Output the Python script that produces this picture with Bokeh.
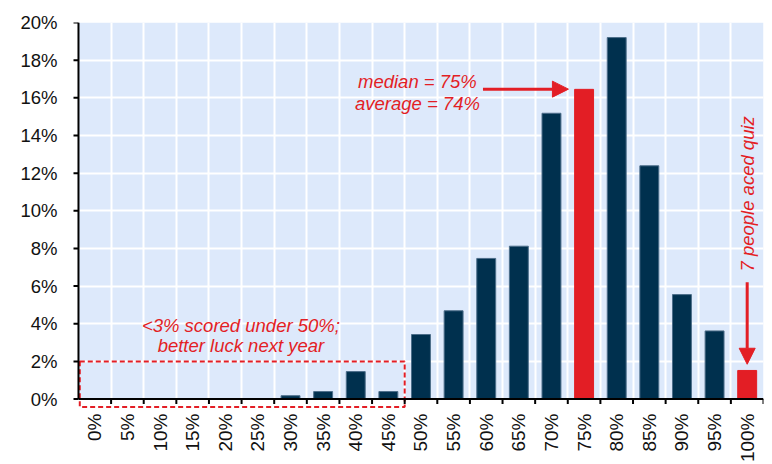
import math
from bokeh.plotting import figure
from bokeh.models import (FixedTicker, Label, Arrow, NormalHead, BoxAnnotation,
                          ColumnDataSource, Range1d)
from bokeh.embed import file_html
from bokeh.resources import INLINE

# ---- data ----
categories = ["0%", "5%", "10%", "15%", "20%", "25%", "30%", "35%", "40%", "45%",
              "50%", "55%", "60%", "65%", "70%", "75%", "80%", "85%", "90%", "95%", "100%"]
shares = [0.0, 0.0, 0.0, 0.0, 0.0, 0.0, 0.18, 0.4, 1.46, 0.4,
          3.43, 4.69, 7.47, 8.12, 15.18, 16.45, 19.2, 12.39, 5.55, 3.62, 1.52]
highlight = ["75%", "100%"]
y_ticks = [0, 2, 4, 6, 8, 10, 12, 14, 16, 18, 20]
y_tick_labels = ["0%", "2%", "4%", "6%", "8%", "10%", "12%", "14%", "16%", "18%", "20%"]

NAVY = "#00304e"
NAVY_EDGE = "#4d6e8a"
RED = "#e31e25"
BG = "#dde9fb"
FONT = "Liberation Sans"

n = len(categories)
xs = list(range(n))
fills = [RED if c in highlight else NAVY for c in categories]
edges = [RED if c in highlight else NAVY_EDGE for c in categories]
src = ColumnDataSource(dict(x=xs, top=shares, fill=fills, edge=edges, cat=categories))

x_lo, x_hi = -0.5, n - 0.5
y_lo, y_hi = y_ticks[0], y_ticks[-1]
PX_X = 32.73   # pixels per category
PX_Y = 18.83   # pixels per percentage point
TICK = 5       # tick length, px

p = figure(frame_width=691, frame_height=386, output_backend="svg", toolbar_location=None,
           x_range=Range1d(x_lo - 6 / PX_X, x_hi), y_range=Range1d(y_lo - 0.5, y_hi),
           min_border_left=72, min_border_top=22, min_border_right=2, min_border_bottom=0)
p.background_fill_color = "white"
p.border_fill_color = "white"
p.outline_line_color = None

# plot-area background (only over the data region)
p.add_layout(BoxAnnotation(left=x_lo, right=x_hi, bottom=y_lo, top=y_hi,
                           fill_color=BG, fill_alpha=1.0, line_color=None, level="image"))

# grids
boundaries = [i + 0.5 for i in range(n - 1)]
p.xgrid.ticker = FixedTicker(ticks=boundaries)
p.ygrid.ticker = FixedTicker(ticks=y_ticks[1:])
p.xgrid.cross_bounds = (y_lo, y_hi)
p.ygrid.cross_bounds = (x_lo, x_hi)
for g in (p.xgrid, p.ygrid):
    g.grid_line_color = "white"
    g.grid_line_width = 2
    g.grid_line_alpha = 1.0

p.vbar(x="x", top="top", width=0.58, source=src, fill_color="fill",
       line_color="edge", line_width=1)

# dashed box around sub-50% scores
p.quad(left=[-0.46], right=[9.5], bottom=[-0.42], top=[2.0], fill_color=None,
       line_color=RED, line_width=2, line_dash="5 3")

# axis lines and ticks drawn at the data origin
p.segment(x0=[x_lo, x_lo], y0=[y_lo, y_lo], x1=[x_hi, x_lo], y1=[y_lo, y_hi],
          line_color="black", line_width=2)
edges_x = [i - 0.5 for i in range(1, n + 1)]
p.segment(x0=edges_x, y0=[y_lo] * len(edges_x), x1=edges_x,
          y1=[y_lo - TICK / PX_Y] * len(edges_x), line_color="black", line_width=2)
p.segment(x0=[x_lo] * len(y_ticks), y0=y_ticks, x1=[x_lo - TICK / PX_X] * len(y_ticks),
          y1=y_ticks, line_color="black", line_width=2)

# x axis (labels only)
xa = p.xaxis[0]
xa.ticker = FixedTicker(ticks=xs)
xa.major_label_overrides = {i: c for i, c in enumerate(categories)}
xa.major_label_orientation = math.pi / 2
xa.major_tick_line_color = None
xa.minor_tick_line_color = None
xa.major_tick_out = 0
xa.major_tick_in = 0
xa.axis_line_color = None
xa.major_label_standoff = 5
xa.major_label_text_font = FONT
xa.major_label_text_font_size = "19px"
xa.major_label_text_color = "#111111"

# y axis (labels only)
ya = p.yaxis[0]
ya.ticker = FixedTicker(ticks=y_ticks)
ya.major_label_overrides = {t: l for t, l in zip(y_ticks, y_tick_labels)}
ya.major_tick_line_color = None
ya.minor_tick_line_color = None
ya.major_tick_out = 0
ya.major_tick_in = 0
ya.axis_line_color = None
ya.major_label_standoff = 15
ya.major_label_text_font = FONT
ya.major_label_text_font_size = "18.5px"
ya.major_label_text_color = "#111111"

def lab(x, y, text, angle=0.0):
    p.add_layout(Label(x=x, y=y, text=text, angle=angle, text_font=FONT,
                       text_font_style="italic", text_font_size="18.5px",
                       text_color=RED, text_align="center", text_baseline="middle"))

lab(4.48, 3.92, "<3% scored under 50%;")
lab(4.48, 2.84, "better luck next year")
lab(9.89, 16.85, "median = 75%")
lab(9.89, 15.7, "average = 74%")
lab(20.0, 10.9, "7 people aced quiz", angle=math.pi / 2)

p.add_layout(Arrow(x_start=11.9, y_start=16.46, x_end=14.52, y_end=16.46,
                   line_color=RED, line_width=3,
                   end=NormalHead(size=16, fill_color=RED, line_color=RED)))
p.add_layout(Arrow(x_start=20.0, y_start=6.2, x_end=20.0, y_end=1.85,
                   line_color=RED, line_width=3,
                   end=NormalHead(size=16, fill_color=RED, line_color=RED)))

open("out.html", "w").write(file_html(p, INLINE))
